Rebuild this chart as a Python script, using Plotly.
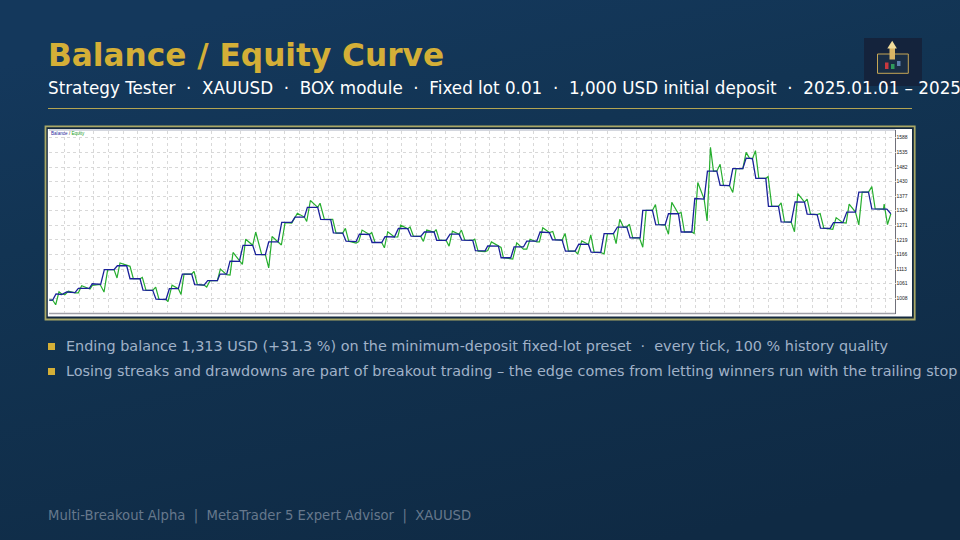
import base64
import plotly.graph_objects as go

balance_x = [1,11,21,38,53,78,88,121,130,155,166,195,205,233,243,273,282,311,321,351,361,388,400,428,437,465,476,505,513,533,543,571,582,611,620,649,659,687,698,728,738,766,775,806,815,845,853,
881,891,921,931,961,969,998,1008,1036,1048,1076,1086,1115,1126,1155,1163,1191,1203,1230,1238,1271,1279,1308,1316,1348,1356,1385,1395,1423,1433,1463,1473,1501,1510,1539,1549,1578,1589,1618,1626,1655,1665,1693,1705,1733,
1743,1773,1781,1810,1820,1848,1858,1888,1896,1928,1937,1965,1975,2003,2013,2041,2051,2081,2091,2110,2120,2150,2158,2188,2196,2226,2238,2266,2274,2304,2314,2343,2353,2381,2393,2419,2429,2458,2468,2513,2525]
balance_y = [1001,1001,1023,1021,1030,1028,1043,1043,1060,1058,1111,1111,1125,1125,1078,1078,1037,1036,1004,1003,1042,1042,1095,1095,1057,1055,1071,1071,1095,1095,1142,1141,1199,1199,1165,1165,1211,1211,1282,1282,1301,1301,1336,1336,1293,1292,1244,
1243,1214,1212,1239,1238,1209,1209,1230,1229,1260,1259,1232,1231,1247,1247,1217,1217,1239,1239,1218,1217,1180,1179,1197,1196,1154,1154,1193,1193,1214,1214,1247,1245,1219,1218,1178,1178,1203,1202,1174,1173,1241,1241,1265,1265,
1226,1226,1325,1325,1274,1273,1313,1313,1247,1247,1368,1366,1467,1467,1416,1415,1476,1476,1514,1512,1441,1441,1340,1340,1284,1283,1356,1355,1312,1310,1261,1260,1281,1281,1319,1319,1391,1391,1331,1330,1313]

equity_x = [1,11,20,30,38,48,58,78,88,98,123,130,153,165,176,195,204,213,243,253,273,280,291,311,320,330,351,357,369,388,396,405,428,435,445,465,473,483,505,514,533,543,552,571,580,590,611,620,638,649,659,669,687,697,708,728,745,766,773,784,806,813,826,848,851,
861,881,889,899,921,929,939,961,968,978,998,1006,1016,1036,1046,1055,1076,1083,1093,1115,1123,1133,1155,1161,1171,1191,1200,1210,1230,1237,1247,1271,1277,1287,1308,1316,1327,1348,1356,1363,1385,1391,1403,1423,1433,1443,1463,1471,1481,1501,1511,1519,1539,1548,1558,1578,1586,1598,1618,1625,1635,1655,1665,1675,1693,1701,1712,
1723,1733,1741,1751,1771,1781,1791,1810,1819,1829,1848,1858,1868,1888,1896,1906,1928,1935,1946,1965,1974,1984,1993,2003,2013,2023,2041,2051,2061,2081,2091,2101,2110,2119,2129,2150,2157,2168,2188,2196,2206,2226,2236,2246,2266,2274,2284,2304,2313,2324,2343,2351,2361,2381,2391,2400,2419,2429,2439,2458,2468,2478,2503,2505,2515,2525]
equity_y = [1001,1001,984,1031,1023,1021,1033,1027,1027,1053,1041,1054,1058,1030,1111,1111,1081,1135,1123,1078,1078,1083,1036,1036,1048,1003,1003,995,1055,1042,1021,1095,1095,1105,1057,1055,1048,1071,1071,1113,1093,1091,1173,1141,1130,1221,1199,1247,1165,1165,1117,1231,1211,1200,1281,1279,1315,1301,1285,1361,1336,1351,1293,1292,1293,
1243,1243,1260,1214,1207,1212,1254,1238,1245,1209,1209,1190,1248,1229,1229,1272,1259,1265,1232,1231,1213,1254,1247,1256,1217,1217,1196,1250,1239,1254,1218,1217,1221,1178,1176,1180,1211,1196,1191,1154,1149,1149,1208,1185,1185,1221,1211,1211,1262,1245,1249,1219,1218,1242,1178,1178,1167,1215,1202,1237,1174,1173,1168,1241,1241,1205,1293,
1265,1265,1275,1226,1226,1192,1325,1325,1346,1274,1273,1239,1354,1313,1318,1247,1247,1242,1426,1366,1287,1553,1467,1467,1492,1416,1415,1390,1476,1476,1535,1514,1512,1541,1441,1441,1447,1340,1340,1352,1284,1283,1248,1386,1355,1366,1312,1310,1314,1261,1260,1257,1299,1281,1279,1348,1319,1273,1391,1391,1411,1331,1330,1348,1274,1313]

y_ticks = [955,1008,1061,1113,1166,1219,1271,1324,1377,1430,1482,1535,1588]
BULLETS = ["Ending balance 1,313 USD (+31.3 %) on the minimum-deposit fixed-lot preset\u00a0\u00a0·\u00a0\u00a0every tick, 100 % history quality",
           "Losing streaks and drawdowns are part of breakout trading – the edge comes from letting winners run with the trailing stop"]
TITLE = "Balance / Equity Curve"
SUB = "Strategy Tester\u00a0\u00a0·\u00a0\u00a0XAUUSD\u00a0\u00a0·\u00a0\u00a0BOX module\u00a0\u00a0·\u00a0\u00a0Fixed lot 0.01\u00a0\u00a0·\u00a0\u00a01,000 USD initial deposit\u00a0\u00a0·\u00a0\u00a02025.01.01 – 2025"
FOOT = "Multi-Breakout Alpha\u00a0\u00a0|\u00a0\u00a0MetaTrader 5 Expert Advisor\u00a0\u00a0|\u00a0\u00a0XAUUSD"

W, H = 960, 540
PX0, PX1, PY0, PY1 = 49, 895.5, 130.5, 312.5
svg = ('<svg xmlns="http://www.w3.org/2000/svg" width="960" height="540"><defs>'
       '<linearGradient id="g" x1="0.3" y1="0" x2="0.7" y2="1"><stop offset="0" stop-color="#14385c"/>'
       '<stop offset="0.3" stop-color="#123453"/><stop offset="1" stop-color="#0f2a44"/></linearGradient></defs>'
       '<rect width="960" height="540" fill="url(#g)"/></svg>')
bg = "data:image/svg+xml;base64," + base64.b64encode(svg.encode()).decode()

fx = lambda p: p / W
fy = lambda p: 1 - p / H
def rect(x0, y0, x1, y1, fill=None, line=None, lw=1, layer="below"):
    return dict(type="rect", xref="paper", yref="paper", x0=fx(x0), x1=fx(x1), y0=fy(y1), y1=fy(y0),
                fillcolor=fill or "rgba(0,0,0,0)", line=dict(color=line or "rgba(0,0,0,0)", width=lw if line else 0), layer=layer)
def hline(x0, x1, y, color, lw=1, layer="below"):
    return dict(type="line", xref="paper", yref="paper", x0=fx(x0), x1=fx(x1), y0=fy(y), y1=fy(y), line=dict(color=color, width=lw), layer=layer)

GOLD = "#d4af37"
shapes = [
    hline(48, 912, 108.5, "#b3a452", 1),
    rect(45.5, 126.3, 914.7, 319.5, "#13283f", "#a9a866", 1.8),
    rect(47.8, 129, 912, 316.5, "#ffffff"),
    hline(49, 895.5, 130, "#a8aebd", 1.2),
    hline(49, 895.5, 313.5, "#a0a0a8", 1.6),
    dict(type="line", xref="paper", yref="paper", x0=fx(895.5), x1=fx(895.5), y0=fy(130), y1=fy(314), line=dict(color="#70707a", width=1), layer="below"),
    # logo
    rect(864, 38, 922, 86, "#14233c"),
    dict(type="rect", xref="paper", yref="paper", x0=fx(877.5), x1=fx(908.3), y0=fy(73.3), y1=fy(54), fillcolor="#1a2d44",
         line=dict(color="#c5a655", width=1), layer="above"),
    rect(889.5, 48, 895, 59.5, "#d9b565", layer="above"),
    dict(type="path", xref="paper", yref="paper", layer="above", fillcolor="#f2dc9a", line=dict(width=0),
         path=f"M {fx(887.3)} {fy(48.5)} L {fx(892.2)} {fy(40.7)} L {fx(896.9)} {fy(48.5)} Z"),
    rect(885, 62.5, 888.5, 69, "#c8383e", layer="above"),
    rect(891, 64, 894.5, 69, "#2f9a5c", layer="above"),
    rect(897, 61, 900.5, 66, "#5f80ad", layer="above"),
    # bullets
    rect(48, 343, 55, 350, GOLD),
    rect(48, 368, 55, 375, GOLD),
]

def note(txt, x, y, size, color, weight=None, family="DejaVu Sans"):
    return dict(text=txt, xref="paper", yref="paper", x=fx(x), y=fy(y), xanchor="left", yanchor="middle",
                showarrow=False, align="left", font=dict(family=family, size=size, color=color, weight=weight))

annotations = [
    note(TITLE, 46, 55.5, 31.2, GOLD, "bold"),
    note(SUB, 46, 88, 16.78, "#ffffff"),
    note(BULLETS[0], 64, 346, 14.4, "#a0b2c8"),
    note(BULLETS[1], 64, 371, 14.4, "#a0b2c8"),
    note(FOOT, 46, 515.5, 13.2, "#66788c"),
    note("<span style='color:#2a2aa0'>Balance</span> / <span style='color:#22a022'>Equity</span>", 49, 133.5, 4.6, "#333333", family="Liberation Sans"),
]

fig = go.Figure()
fig.add_trace(go.Scatter(x=equity_x, y=equity_y, mode="lines", line=dict(color="#27ae2f", width=1.2), name="Equity"))
fig.add_trace(go.Scatter(x=balance_x, y=balance_y, mode="lines", line=dict(color="#1a2199", width=1.3), name="Balance"))
grid = dict(gridcolor="#d8d8d8", griddash="dot", gridwidth=1)
fig.update_layout(
    width=W, height=H, autosize=False, margin=dict(l=0, r=0, t=0, b=0), showlegend=False,
    paper_bgcolor="#11304e", plot_bgcolor="rgba(0,0,0,0)",
    images=[dict(source=bg, xref="paper", yref="paper", x=0, y=1, sizex=1, sizey=1, sizing="stretch", xanchor="left", yanchor="top", layer="below")],
    shapes=shapes, annotations=annotations,
    xaxis=dict(domain=[fx(PX0), fx(PX1)], range=[0, 2539], tick0=46, dtick=44, showticklabels=False, ticks="", zeroline=False, **grid),
    yaxis=dict(domain=[fy(PY1), fy(PY0)], range=[956, 1614], side="right", tickvals=y_ticks, ticks="", zeroline=False,
               tickfont=dict(family="Liberation Sans", size=5, color="#222222"), **grid),
)
fig.write_html("out.html", config=dict(displayModeBar=False),
               post_script="document.body.style.margin='0';document.body.style.overflow='hidden';document.body.style.background='#11304e';")
